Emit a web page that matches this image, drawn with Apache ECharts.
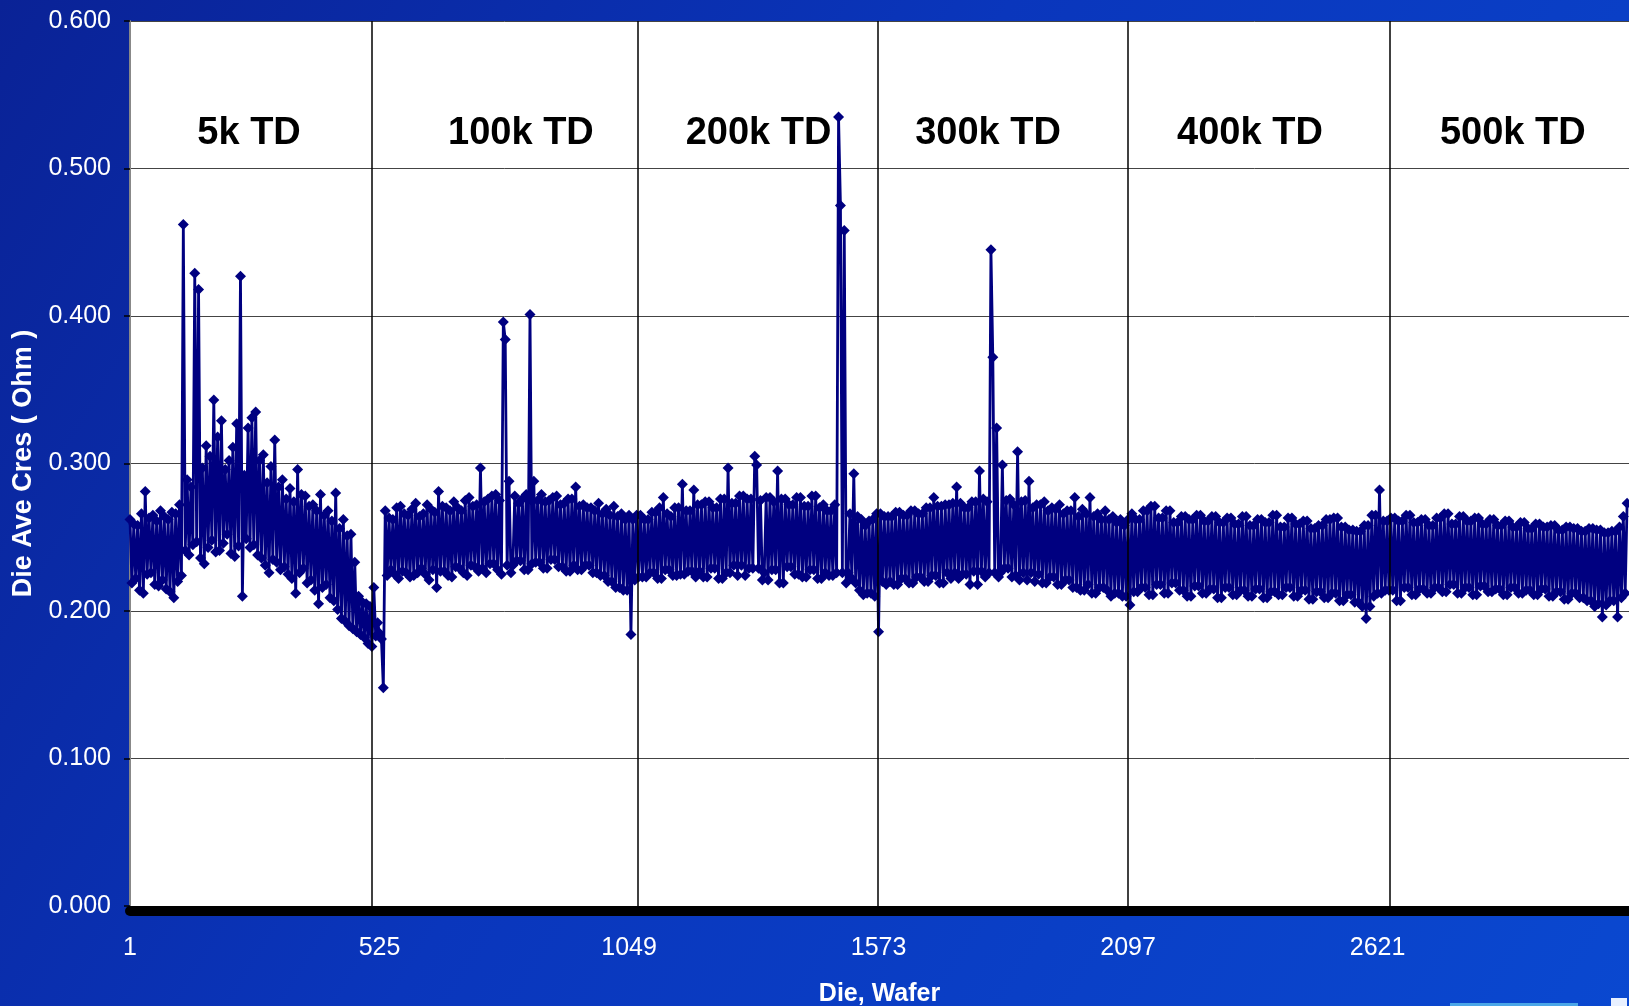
<!DOCTYPE html>
<html><head><meta charset="utf-8">
<script src="https://cdn.jsdelivr.net/npm/echarts@6/dist/echarts.min.js"></script>
<style>html,body{margin:0;padding:0;background:#0a2ea8;overflow:hidden}#c{width:1629px;height:1006px;}</style>
</head><body><div id="c"></div>
<script>
// one value every DIE_STEP dies, starting at die 1
const DIE_STEP = 4;
const cres = [
 // 5k TD
 0.262,0.219, 0.259,0.222, 0.258,0.214, 0.266,0.212, 0.281,0.225,
 0.263,0.226, 0.265,0.218, 0.261,0.217, 0.268,0.221, 0.264,0.215,
 0.262,0.213, 0.267,0.209, 0.266,0.220, 0.272,0.224, 0.462,0.241,
 0.289,0.238, 0.284,0.245, 0.429,0.247, 0.418,0.236, 0.297,0.232,
 0.312,0.243, 0.305,0.248, 0.343,0.240, 0.318,0.241, 0.329,0.246,
 0.296,0.252, 0.302,0.239, 0.311,0.237, 0.327,0.244, 0.427,0.210,
 0.292,0.249, 0.324,0.243, 0.331,0.245, 0.335,0.238, 0.302,0.236,
 0.306,0.231, 0.287,0.226, 0.298,0.235, 0.316,0.233, 0.284,0.228,
 0.289,0.230, 0.276,0.225, 0.283,0.222, 0.274,0.212, 0.296,0.226,
 0.279,0.229, 0.278,0.219, 0.271,0.221, 0.272,0.214, 0.268,0.205,
 0.279,0.216, 0.265,0.218, 0.268,0.209, 0.261,0.207, 0.280,0.201,
 0.256,0.195, 0.262,0.193, 0.251,0.190, 0.252,0.188, 0.233,0.186,
 0.210,0.184, 0.206,0.182, 0.205,0.178, 0.203,0.176, 0.216,0.183,
 0.192,0.185, 0.181,0.148,
 // 100k TD
 0.268,0.224, 0.263,0.228, 0.262,0.225, 0.270,0.222, 0.271,0.227,
 0.266,0.226, 0.265,0.223, 0.269,0.224, 0.273,0.226, 0.264,0.229,
 0.266,0.225, 0.272,0.221, 0.269,0.228, 0.267,0.216, 0.281,0.227,
 0.271,0.227, 0.270,0.224, 0.268,0.223, 0.274,0.230, 0.270,0.229,
 0.268,0.226, 0.275,0.224, 0.277,0.231, 0.271,0.230, 0.272,0.227,
 0.297,0.229, 0.274,0.226, 0.276,0.232, 0.278,0.232, 0.279,0.228,
 0.275,0.225, 0.396,0.384, 0.231,0.288, 0.226,0.231, 0.278,0.234,
 0.273,0.234, 0.276,0.228, 0.279,0.228, 0.401,0.232, 0.288,0.233,
 0.275,0.233, 0.279,0.229, 0.274,0.229, 0.275,0.235, 0.277,0.235,
 0.278,0.230, 0.272,0.230, 0.273,0.227, 0.276,0.227, 0.276,0.231,
 0.284,0.228, 0.271,0.228, 0.272,0.231, 0.270,0.231, 0.270,0.226,
 0.268,0.226, 0.273,0.224, 0.266,0.224, 0.269,0.220, 0.265,0.220,
 0.271,0.216, 0.264,0.216, 0.266,0.214, 0.262,0.214, 0.265,0.184,
 0.262,0.221, 0.265,0.223,
 // 200k TD
 0.265,0.223, 0.262,0.223, 0.262,0.226, 0.267,0.226, 0.267,0.222,
 0.270,0.222, 0.277,0.228, 0.266,0.228, 0.264,0.224, 0.270,0.224,
 0.270,0.225, 0.286,0.225, 0.268,0.227, 0.268,0.227, 0.282,0.223,
 0.272,0.227, 0.272,0.223, 0.274,0.223, 0.274,0.229, 0.270,0.229,
 0.270,0.222, 0.276,0.222, 0.276,0.226, 0.297,0.226, 0.273,0.231,
 0.273,0.224, 0.278,0.231, 0.278,0.224, 0.276,0.229, 0.276,0.229,
 0.305,0.299, 0.229,0.275, 0.221,0.226, 0.277,0.221, 0.277,0.228,
 0.274,0.228, 0.295,0.219, 0.276,0.219, 0.276,0.230, 0.272,0.230,
 0.272,0.225, 0.277,0.225, 0.277,0.223, 0.271,0.223, 0.271,0.228,
 0.278,0.228, 0.278,0.222, 0.270,0.222, 0.272,0.226, 0.268,0.224,
 0.268,0.224, 0.272,0.226, 0.535,0.475, 0.226,0.458, 0.219,0.226,
 0.266,0.222, 0.293,0.219, 0.264,0.214, 0.262,0.211, 0.258,0.212,
 0.261,0.212, 0.262,0.210, 0.266,0.186, 0.266,0.220, 0.264,0.218,
 // 300k TD
 0.264,0.220, 0.264,0.218, 0.267,0.218, 0.267,0.222, 0.265,0.222,
 0.265,0.219, 0.268,0.219, 0.268,0.223, 0.266,0.223, 0.266,0.220,
 0.270,0.220, 0.270,0.224, 0.277,0.224, 0.271,0.219, 0.271,0.219,
 0.272,0.226, 0.272,0.222, 0.273,0.226, 0.284,0.222, 0.273,0.225,
 0.270,0.225, 0.270,0.218, 0.274,0.227, 0.274,0.218, 0.295,0.227,
 0.276,0.223, 0.274,0.226, 0.445,0.372, 0.226,0.324, 0.223,0.226,
 0.299,0.229, 0.275,0.229, 0.276,0.223, 0.272,0.224, 0.308,0.221,
 0.274,0.226, 0.275,0.221, 0.288,0.226, 0.270,0.220, 0.272,0.225,
 0.272,0.219, 0.274,0.219, 0.268,0.223, 0.270,0.223, 0.269,0.218,
 0.272,0.218, 0.266,0.221, 0.268,0.221, 0.268,0.216, 0.277,0.216,
 0.264,0.214, 0.269,0.214, 0.266,0.218, 0.277,0.212, 0.264,0.212,
 0.266,0.216, 0.262,0.216, 0.268,0.214, 0.262,0.210, 0.264,0.212,
 0.260,0.212, 0.262,0.210, 0.258,0.210, 0.262,0.204,
 // 400k TD
 0.266,0.213, 0.262,0.213, 0.262,0.216, 0.268,0.216, 0.268,0.211,
 0.271,0.211, 0.271,0.218, 0.263,0.218, 0.263,0.212, 0.268,0.212,
 0.268,0.219, 0.260,0.219, 0.260,0.214, 0.264,0.214, 0.264,0.210,
 0.262,0.210, 0.262,0.217, 0.265,0.217, 0.265,0.212, 0.261,0.212,
 0.261,0.215, 0.264,0.215, 0.264,0.209, 0.260,0.209, 0.260,0.216,
 0.263,0.216, 0.263,0.211, 0.259,0.211, 0.259,0.214, 0.264,0.214,
 0.264,0.210, 0.258,0.210, 0.258,0.215, 0.262,0.215, 0.262,0.209,
 0.260,0.209, 0.260,0.213, 0.265,0.213, 0.265,0.211, 0.257,0.211,
 0.257,0.216, 0.263,0.216, 0.263,0.210, 0.259,0.210, 0.259,0.214,
 0.261,0.214, 0.261,0.208, 0.256,0.208, 0.256,0.213, 0.258,0.213,
 0.258,0.209, 0.262,0.209, 0.262,0.212, 0.263,0.212, 0.263,0.207,
 0.257,0.207, 0.257,0.211, 0.255,0.211, 0.255,0.206, 0.254,0.206,
 0.254,0.203, 0.258,0.195, 0.258,0.203, 0.265,0.210, 0.265,0.212,
 0.282,0.212, 0.261,0.214, 0.261,0.214,
 // 500k TD
 0.263,0.214, 0.263,0.207, 0.261,0.207, 0.261,0.216, 0.265,0.216,
 0.265,0.211, 0.260,0.211, 0.260,0.215, 0.262,0.215, 0.262,0.212,
 0.258,0.212, 0.258,0.216, 0.263,0.216, 0.263,0.213, 0.266,0.213,
 0.266,0.218, 0.259,0.218, 0.259,0.212, 0.264,0.212, 0.264,0.216,
 0.261,0.216, 0.261,0.211, 0.263,0.211, 0.263,0.217, 0.259,0.217,
 0.259,0.213, 0.262,0.213, 0.262,0.215, 0.258,0.215, 0.258,0.211,
 0.261,0.211, 0.261,0.216, 0.257,0.216, 0.257,0.212, 0.260,0.212,
 0.260,0.214, 0.256,0.214, 0.256,0.211, 0.259,0.211, 0.259,0.215,
 0.257,0.215, 0.257,0.210, 0.258,0.210, 0.258,0.213, 0.255,0.213,
 0.255,0.208, 0.257,0.208, 0.257,0.212, 0.256,0.212, 0.256,0.209,
 0.254,0.209, 0.254,0.207, 0.256,0.207, 0.256,0.203, 0.255,0.205,
 0.255,0.196, 0.253,0.204, 0.253,0.207, 0.254,0.207, 0.254,0.196,
 0.257,0.209, 0.264,0.212, 0.273
];
const xTickLabels = [1, 525, 1049, 1573, 2097, 2621];
const groupNames = ['5k TD', '100k TD', '200k TD', '300k TD', '400k TD', '500k TD'];
const groupCenterDie = [251, 822, 1321, 1803, 2353, 2905];
const groupBoundaryDie = [509, 1068, 1572, 2097, 2647];
const LABEL_Y = 0.524;

const FONT = '"Liberation Sans", Arial, Helvetica, sans-serif';
const chart = echarts.init(document.getElementById('c'), null, {renderer: 'canvas'});
const lineData = cres.map((v, i) => [1 + i * DIE_STEP, v]);

chart.setOption({
  animation: false,
  backgroundColor: new echarts.graphic.LinearGradient(0, 0, 1, 1, [
    {offset: 0, color: '#0a2296'},
    {offset: 0.45, color: '#0a36bc'},
    {offset: 1, color: '#0a48d0'}
  ]),
  textStyle: {fontFamily: FONT},
  graphic: [
    {type: 'rect', silent: true, z: -10, shape: {x: 1450, y: 1003, width: 128, height: 3}, style: {fill: '#4aa6e8'}},
    {type: 'rect', silent: true, z: -10, shape: {x: 1611, y: 998, width: 16, height: 8}, style: {fill: '#e8f0ff'}}
  ],
  grid: {left: 130, top: 21, right: 0, bottom: 100, outerBoundsMode: 'none', containLabel: false,
         show: true, backgroundColor: '#ffffff', borderWidth: 0},
  xAxis: {
    type: 'value', min: 1, max: 3149, offset: 5,
    axisLine: {show: true, onZero: false, lineStyle: {color: '#000', width: 10}},
    axisTick: {show: false},
    splitLine: {show: false},
    axisLabel: {customValues: xTickLabels, color: '#fff', fontSize: 25, margin: 25, fontFamily: FONT, formatter: v => String(v)},
    name: 'Die, Wafer', nameLocation: 'middle', nameGap: 71,
    nameTextStyle: {color: '#fff', fontSize: 25, fontWeight: 'bold', fontFamily: FONT}
  },
  yAxis: {
    type: 'value', min: 0, max: 0.6, interval: 0.1,
    axisLine: {show: true, onZero: false, lineStyle: {color: '#888', width: 2}},
    axisTick: {show: true, length: 6, lineStyle: {color: '#000', width: 1.5}},
    axisLabel: {color: '#fff', fontSize: 25, margin: 19, fontFamily: FONT, formatter: v => v.toFixed(3)},
    splitLine: {show: true, lineStyle: {color: '#444', width: 1}},
    name: 'Die Ave Cres ( Ohm )', nameLocation: 'middle', nameGap: 92,
    nameTextStyle: {color: '#fff', fontSize: 27, fontWeight: 'bold', fontFamily: FONT}
  },
  series: [
    {
      type: 'line', data: lineData, z: 3,
      symbol: 'diamond', symbolSize: 11, showSymbol: true, showAllSymbol: true,
      lineStyle: {color: '#000080', width: 2.8},
      itemStyle: {color: '#000080', borderWidth: 0},
      emphasis: {disabled: true},
      markLine: {
        silent: true, symbol: ['none', 'none'], label: {show: false},
        lineStyle: {color: '#000', width: 1.5, type: 'solid'},
        emphasis: {disabled: true},
        data: groupBoundaryDie.map(d => ({xAxis: d}))
      }
    },
    {
      type: 'scatter', z: 5, symbolSize: 1, itemStyle: {color: 'rgba(0,0,0,0)', opacity: 1},
      data: groupCenterDie.map((d, i) => ({value: [d, LABEL_Y], name: groupNames[i]})),
      label: {show: true, position: 'inside', formatter: '{b}', color: '#000', opacity: 1, fontSize: 38, fontWeight: 'bold', fontFamily: FONT},
      emphasis: {disabled: true}
    }
  ]
});
</script>
</body></html>
